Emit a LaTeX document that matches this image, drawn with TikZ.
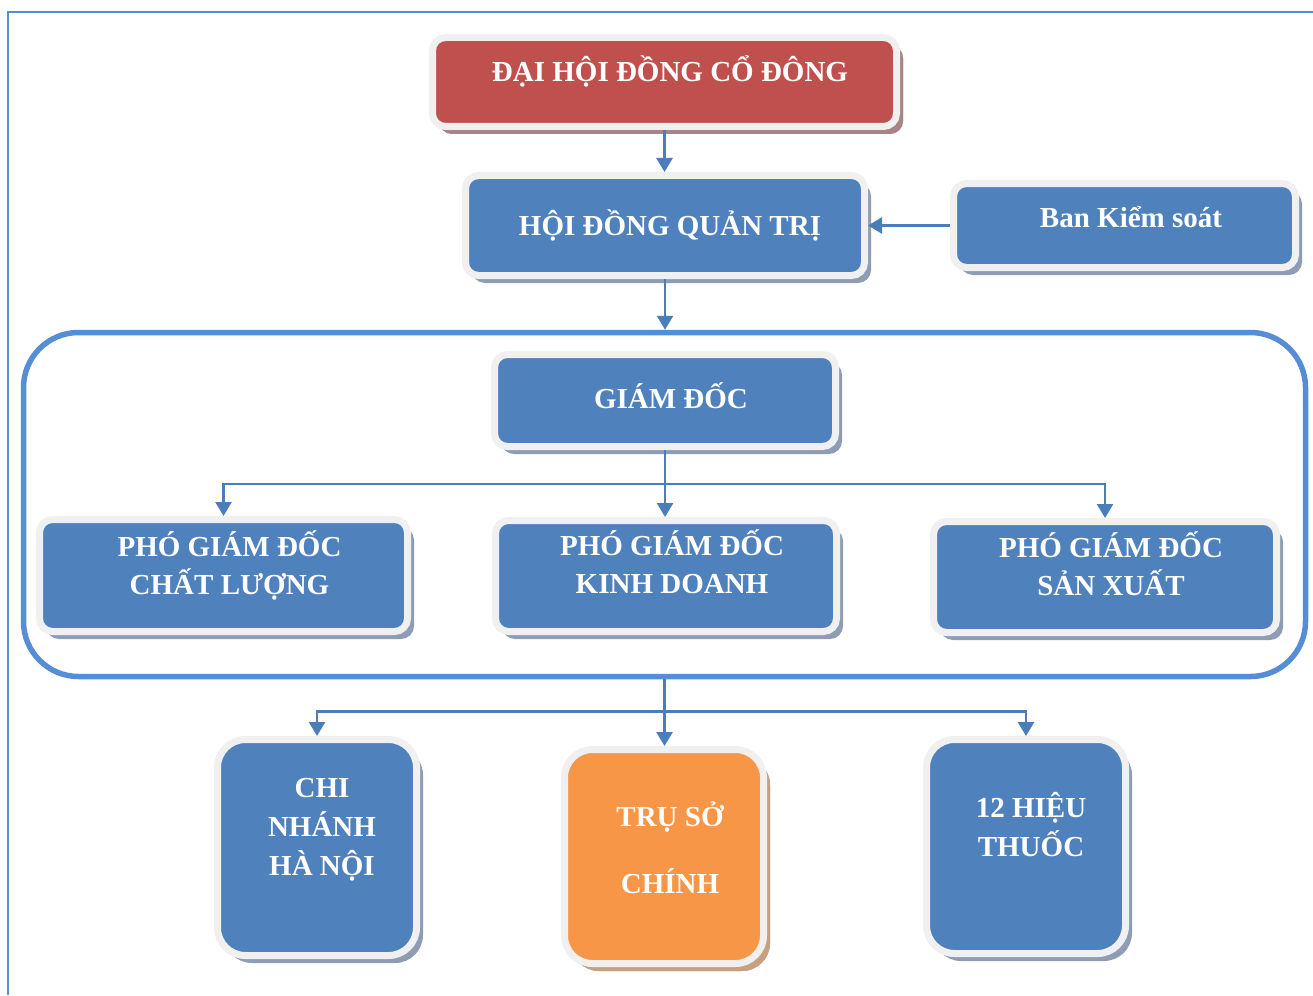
\documentclass[tikz,border=0pt]{standalone}
\usepackage{fontspec}
\setmainfont{Liberation Serif}
\usetikzlibrary{arrows.meta,shadows}

\definecolor{boxblue}{HTML}{4F81BD}
\definecolor{boxred}{HTML}{C0504D}
\definecolor{boxorange}{HTML}{F79646}
\definecolor{ringgray}{HTML}{F0F0F0}
\definecolor{framecol}{HTML}{558ED5}
\definecolor{linecol}{HTML}{4A7EBB}
\definecolor{shblue}{HTML}{8E9DB3}
\definecolor{shred}{HTML}{A88484}
\definecolor{shorange}{HTML}{C9A07F}

\begin{document}
\begin{tikzpicture}[x=1pt,y=-1pt,
  box/.style={draw=ringgray, line width=7pt, rounded corners=13pt, fill=boxblue,
    inner sep=0pt, drop shadow={shadow xshift=6.5pt, shadow yshift=-7.5pt, fill=shblue, opacity=1}},
  tallbox/.style={box, rounded corners=28pt},
  redbox/.style={box, fill=boxred, drop shadow={shadow xshift=6.5pt, shadow yshift=-7.5pt, fill=shred, opacity=1}},
  orangebox/.style={tallbox, fill=boxorange, drop shadow={shadow xshift=6.5pt, shadow yshift=-7.5pt, fill=shorange, opacity=1}},
  txt/.style={text=white, font=\fontsize{29}{35}\selectfont\bfseries, inner sep=0pt, anchor=base},
  conn/.style={draw=linecol, line width=2.5pt, -{Triangle[width=16pt,length=14pt]}},
  plain/.style={draw=linecol, line width=2.5pt},
  bigframe/.style={draw=framecol, line width=5.5pt, rounded corners=55pt, inner sep=0pt}
]
\useasboundingbox (0,0) rectangle (1313,995);
\fill[white] (0,0) rectangle (1313,995);

% page border
\draw[framecol, line width=2.5pt] (8,995) -- (8,12) -- (1313,12);

% big frame
\node[bigframe, minimum width=1282pt, minimum height=344pt] (fr) at (664.5,504.5) {};

% boxes
\node[redbox, minimum width=464pt, minimum height=89pt] (dh) at (664.5,82) {};
\node[box, minimum width=399pt, minimum height=100pt] (hd) at (665,225.5) {};
\node[box, minimum width=342pt, minimum height=84pt] (bks) at (1124.5,225.5) {};
\node[box, minimum width=341pt, minimum height=92pt] (gd) at (665,400.5) {};
\node[box, minimum width=368pt, minimum height=112pt] (p1) at (223.5,575.5) {};
\node[box, minimum width=341pt, minimum height=111pt] (p2) at (666,576) {};
\node[box, minimum width=343pt, minimum height=111pt] (p3) at (1105,577) {};
\node[tallbox, minimum width=199pt, minimum height=216pt] (cn) at (317,847.5) {};
\node[orangebox, minimum width=199pt, minimum height=214pt] (ts) at (664,856.5) {};
\node[tallbox, minimum width=199pt, minimum height=214pt] (ht) at (1026,846.5) {};

% texts
\node[txt] (tdh) at (670,82) {ĐẠI HỘI ĐỒNG CỔ ĐÔNG};
\node[txt] (thd) at (670,235) {HỘI ĐỒNG QUẢN TRỊ};
\node[txt] (tbks) at (1131,227) {Ban Kiểm soát};
\node[txt] (tgd) at (671,408) {GIÁM ĐỐC};
\node[txt] (tp1a) at (229.5,556) {PHÓ GIÁM ĐỐC};
\node[txt] (tp1b) at (229.5,594) {CHẤT LƯỢNG};
\node[txt] (tp2a) at (672,555) {PHÓ GIÁM ĐỐC};
\node[txt] (tp2b) at (672,593) {KINH DOANH};
\node[txt] (tp3a) at (1111,557) {PHÓ GIÁM ĐỐC};
\node[txt] (tp3b) at (1111,595) {SẢN XUẤT};
\node[txt] (tcna) at (322,797) {CHI};
\node[txt] (tcnb) at (322,836) {NHÁNH};
\node[txt] (tcnc) at (322,875) {HÀ NỘI};
\node[txt] (ttsa) at (670,826) {TRỤ SỞ};
\node[txt] (ttsb) at (670,893) {CHÍNH};
\node[txt] (thta) at (1031,817) {12 HIỆU};
\node[txt] (thtb) at (1031,856) {THUỐC};

% connectors
\draw[conn] (dh.south) -- (dh.south |- hd.north);
\draw[conn] (bks.west) -- (hd.east);
\draw[conn] (hd.south) -- (hd.south |- fr.north);

\path (gd.south) ++(0,34) coordinate (j1);
\draw[plain] (gd.south) -- (j1);
\draw[conn] (j1) -| (p1.north);
\draw[conn] (j1) -| (p3.north);
\draw[conn] (j1) -- (j1 |- p2.north);

\path (fr.south) ++(0,32) coordinate (j2);
\draw[conn] (fr.south) -- (fr.south |- ts.north);
\draw[conn] (j2) -| (cn.north);
\draw[conn] (j2) -| (ht.north);
\end{tikzpicture}
\end{document}
